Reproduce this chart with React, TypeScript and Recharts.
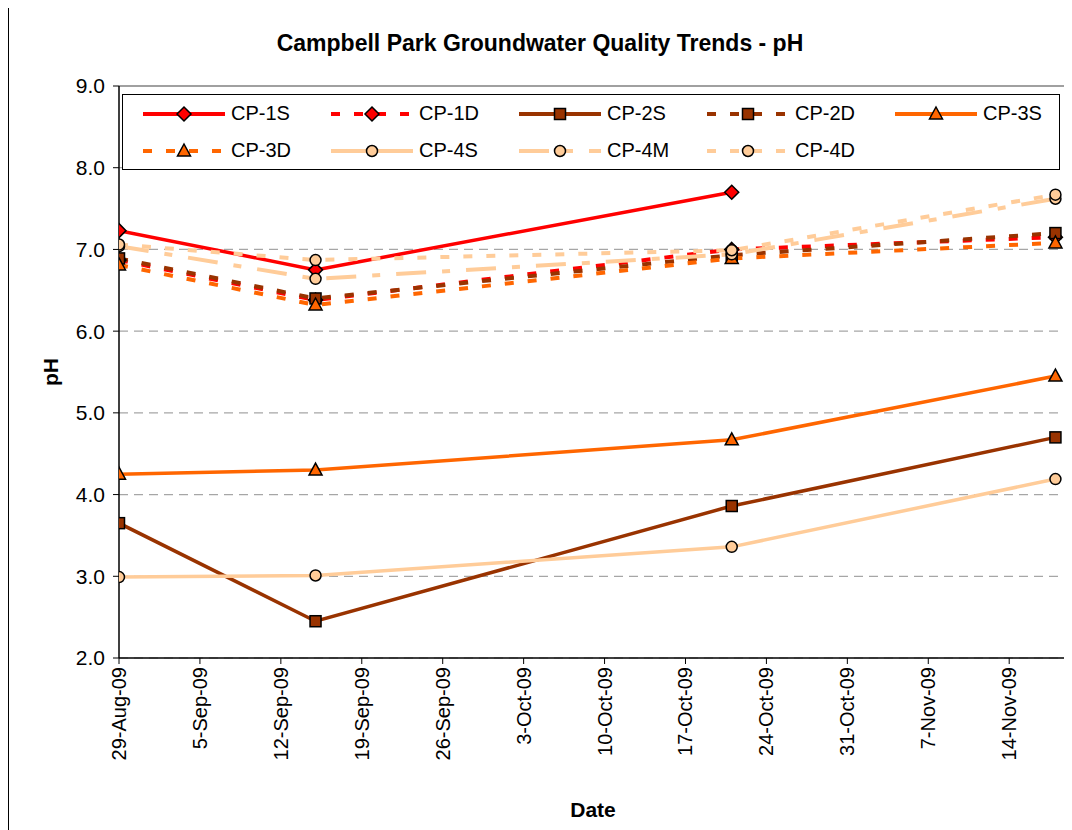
import React from 'react';
import { LineChart, Line, XAxis, YAxis, CartesianGrid, Legend, ReferenceLine } from 'recharts';

// ---- data ----
const sampleDates = ['2009-08-29', '2009-09-15', '2009-10-21', '2009-11-18'];
const tickDates = [
  '2009-08-29', '2009-09-05', '2009-09-12', '2009-09-19', '2009-09-26', '2009-10-03',
  '2009-10-10', '2009-10-17', '2009-10-24', '2009-10-31', '2009-11-07', '2009-11-14',
];
const tickLabels = [
  '29-Aug-09', '5-Sep-09', '12-Sep-09', '19-Sep-09', '26-Sep-09', '3-Oct-09',
  '10-Oct-09', '17-Oct-09', '24-Oct-09', '31-Oct-09', '7-Nov-09', '14-Nov-09',
];
const axisStartDate = '2009-08-29';
const axisEndDate = '2009-11-19';
const yTicks = [2, 3, 4, 5, 6, 7, 8, 9];

const cp1S = [7.23, 6.75, 7.7, null];
const cp1D = [6.87, 6.38, 7.0, 7.15];
const cp2S = [3.65, 2.45, 3.86, 4.7];
const cp2D = [6.89, 6.4, 6.93, 7.2];
const cp3S = [4.25, 4.3, 4.67, 5.45];
const cp3D = [6.81, 6.32, 6.89, 7.08];
const cp4S = [2.99, 3.01, 3.36, 4.19];
const cp4M = [7.04, 6.64, 6.94, 7.62];
const cp4D = [7.06, 6.87, 6.99, 7.67];

const seriesNames = ['CP-1S', 'CP-1D', 'CP-2S', 'CP-2D', 'CP-3S', 'CP-3D', 'CP-4S', 'CP-4M', 'CP-4D'];
const seriesValues = [cp1S, cp1D, cp2S, cp2D, cp3S, cp3D, cp4S, cp4M, cp4D];

// ---- helpers ----
const DAY = 86400000;
const dayOf = (d: string) => (Date.parse(d) - Date.parse(axisStartDate)) / DAY;

const data = sampleDates.map((d, i) => {
  const row: any = { t: dayOf(d) };
  seriesNames.forEach((n, s) => {
    row[n] = seriesValues[s][i];
  });
  return row;
});
const tickDays = tickDates.map(dayOf);
const labelForDay = (v: number) => {
  const i = tickDays.indexOf(v);
  return i >= 0 ? tickLabels[i] : '';
};

const RED = '#FF0000';
const BROWN = '#993300';
const ORANGE = '#FF6600';
const PEACH = '#FFCC99';
const SHORT = '9 14';
const LONGDASHDOT = '30 16 8 16';

type Marker = 'diamond' | 'square' | 'triangle' | 'circle';
const styles: { color: string; dash?: string; marker: Marker; fill: string }[] = [
  { color: RED, marker: 'diamond', fill: RED },
  { color: RED, dash: SHORT, marker: 'diamond', fill: RED },
  { color: BROWN, marker: 'square', fill: BROWN },
  { color: BROWN, dash: SHORT, marker: 'square', fill: BROWN },
  { color: ORANGE, marker: 'triangle', fill: ORANGE },
  { color: ORANGE, dash: SHORT, marker: 'triangle', fill: ORANGE },
  { color: PEACH, marker: 'circle', fill: PEACH },
  { color: PEACH, dash: LONGDASHDOT, marker: 'circle', fill: PEACH },
  { color: PEACH, dash: SHORT, marker: 'circle', fill: PEACH },
];

const FONT = '"Liberation Sans", Arial, sans-serif';

function markerShape(kind: Marker, fill: string, cx: number, cy: number, key?: string) {
  const common = { fill, stroke: '#000', strokeWidth: 1.5 };
  if (kind === 'diamond') {
    return <polygon key={key} points={`${cx},${cy - 7} ${cx + 7},${cy} ${cx},${cy + 7} ${cx - 7},${cy}`} {...common} />;
  }
  if (kind === 'square') {
    return <rect key={key} x={cx - 5.5} y={cy - 5.5} width={11} height={11} {...common} />;
  }
  if (kind === 'triangle') {
    return <polygon key={key} points={`${cx},${cy - 7} ${cx + 6.5},${cy + 5} ${cx - 6.5},${cy + 5}`} {...common} />;
  }
  return <circle key={key} cx={cx} cy={cy} r={5.5} {...common} />;
}

const makeDot = (idx: number) => (p: any) => {
  const k = `${seriesNames[idx]}-${p.index}`;
  if (p.cx == null || p.cy == null || p.value == null) return <g key={k} />;
  return markerShape(styles[idx].marker, styles[idx].fill, p.cx, p.cy, k);
};

const XTick = (props: any) => {
  const { x, y, payload } = props;
  return (
    <text
      transform={`translate(${x},${y}) rotate(-90)`}
      textAnchor="end"
      dominantBaseline="central"
      fontSize={20}
      fontFamily={FONT}
      fill="#000"
    >
      {labelForDay(payload.value)}
    </text>
  );
};

const LegendContent = () => (
  <div
    style={{
      boxSizing: 'border-box',
      width: 938,
      height: 76,
      border: '1px solid #000',
      background: '#fff',
      display: 'grid',
      gridTemplateColumns: '188px 188px 188px 188px 1fr',
      gridAutoRows: '37px',
      paddingLeft: 19,
      paddingTop: 0,
      fontFamily: FONT,
      fontSize: 20,
      color: '#000',
    }}
  >
    {seriesNames.map((n, i) => (
      <div key={n} style={{ height: 37, display: 'flex', alignItems: 'center', whiteSpace: 'nowrap' }}>
        <svg width={84} height={20} style={{ display: 'block', flex: 'none' }}>
          <line
            x1={1}
            y1={10}
            x2={83}
            y2={10}
            stroke={styles[i].color}
            strokeWidth={4}
            strokeDasharray={styles[i].dash}
          />
          {markerShape(styles[i].marker, styles[i].fill, 42, 10)}
        </svg>
        <span style={{ marginLeft: 5 }}>{n}</span>
      </div>
    ))}
  </div>
);

export default function App() {
  return (
    <div style={{ position: 'relative', width: 1064, height: 822 }}>
      <div style={{ position: 'absolute', left: 0, top: 0, width: 1, height: 822, background: '#000' }} />
      <div
        style={{
          position: 'absolute',
          left: 0,
          top: 22,
          width: 1064,
          textAlign: 'center',
          fontFamily: FONT,
          fontWeight: 'bold',
          fontSize: 23,
          color: '#000',
        }}
      >
        Campbell Park Groundwater Quality Trends - pH
      </div>
      <LineChart
        width={1064}
        height={822}
        data={data}
        margin={{ top: 78, right: 5, left: 0, bottom: 8 }}
        style={{ position: 'absolute', left: 0, top: 0 }}
      >
        <CartesianGrid vertical={false} stroke="#A6A6A6" strokeDasharray="9 6" strokeWidth={1.2} />
        <XAxis
          dataKey="t"
          type="number"
          domain={[0, dayOf(axisEndDate)]}
          ticks={tickDays}
          interval={0}
          allowDataOverflow
          height={164}
          tickSize={6}
          tickMargin={3}
          tick={<XTick />}
          axisLine={{ stroke: '#000', strokeWidth: 1.5 }}
          tickLine={{ stroke: '#000', strokeWidth: 1 }}
          label={{
            value: 'Date',
            position: 'insideBottom',
            offset: 5,
            style: { fontFamily: FONT, fontWeight: 'bold', fontSize: 21, fill: '#000' },
          }}
        />
        <YAxis
          type="number"
          domain={[2, 9]}
          ticks={yTicks}
          interval={0}
          width={111}
          tickSize={6}
          tickMargin={8}
          tickFormatter={(v: number) => v.toFixed(1)}
          tick={{ fontFamily: FONT, fontSize: 21, fill: '#000' }}
          axisLine={{ stroke: '#000', strokeWidth: 1.5 }}
          tickLine={{ stroke: '#000', strokeWidth: 1 }}
          label={{
            content: (lp: any) => {
              const vb = lp.viewBox || {};
              const cx = 42;
              const cy = (vb.y || 0) + (vb.height || 0) / 2;
              return (
                <text
                  x={cx}
                  y={cy}
                  transform={`rotate(-90, ${cx}, ${cy})`}
                  textAnchor="middle"
                  dominantBaseline="central"
                  fontFamily={FONT}
                  fontWeight="bold"
                  fontSize={21}
                  fill="#000"
                >
                  pH
                </text>
              );
            },
          }}
        />
        <ReferenceLine y={9} stroke="#A0A0A0" strokeWidth={2} />
        <ReferenceLine x={dayOf(axisEndDate)} stroke="#A0A0A0" strokeWidth={2} />
        {seriesNames.map((n, i) => (
          <Line
            key={n}
            type="linear"
            dataKey={n}
            name={n}
            stroke={styles[i].color}
            strokeWidth={styles[i].dash ? 4 : 3.5}
            strokeDasharray={styles[i].dash}
            dot={makeDot(i)}
            activeDot={false}
            isAnimationActive={false}
          />
        ))}
        <Legend
          layout="horizontal"
          verticalAlign="middle"
          align="center"
          content={<LegendContent />}
          wrapperStyle={{ position: 'absolute', top: 86, left: 114, width: 938, height: 76 }}
        />
      </LineChart>
    </div>
  );
}
